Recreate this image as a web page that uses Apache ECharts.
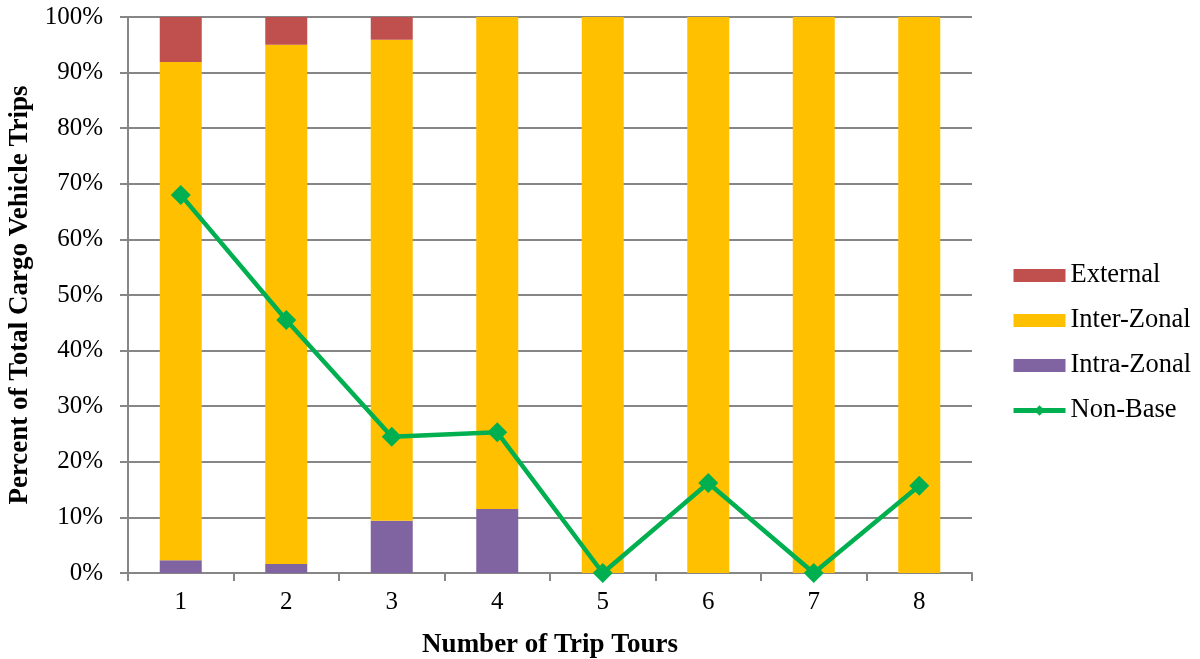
<!DOCTYPE html>
<html><head><meta charset="utf-8">
<script src="https://cdn.jsdelivr.net/npm/echarts@6/dist/echarts.min.js"></script>
<style>html,body{margin:0;padding:0;background:#fff}#c{width:1200px;height:659px}</style>
</head><body><div id="c"></div>
<script>
const categories = ['1','2','3','4','5','6','7','8'];
const intraZonal = [2.3, 1.6, 9.4, 11.5, 0, 0, 0, 0];
const interZonal = [89.6, 93.4, 86.5, 88.5, 100, 100, 100, 100];
const external = [8.1, 5.0, 4.1, 0, 0, 0, 0, 0];
const nonBase = [68.0, 45.5, 24.5, 25.3, 0, 16.2, 0, 15.7];
const yTicks = [0,10,20,30,40,50,60,70,80,90,100];

const font = '"Liberation Serif", "Times New Roman", serif';
const chart = echarts.init(document.getElementById('c'));
chart.setOption({
  animation: false,
  textStyle: {fontFamily: font},
  grid: {left: 128, right: 228, top: 17, bottom: 86, containLabel: false, outerBoundsMode: 'none'},
  legend: {
    orient: 'vertical', left: 1006, top: 257, itemGap: 18,
    itemWidth: 52, itemHeight: 13,
    textStyle: {fontFamily: font, fontSize: 26.5, color: '#000'},
    data: [
      {name: 'External', icon: 'rect'},
      {name: 'Inter-Zonal', icon: 'rect'},
      {name: 'Intra-Zonal', icon: 'rect'},
      {name: 'Non-Base', lineStyle: {width: 5}, itemStyle: {color: '#00B050'}}
    ]
  },
  xAxis: {
    type: 'category', data: categories,
    name: 'Number of Trip Tours', nameLocation: 'middle', nameGap: 59,
    nameTextStyle: {fontFamily: font, fontSize: 27, fontWeight: 'bold', color: '#000'},
    axisLine: {lineStyle: {color: '#868686', width: 2}},
    axisTick: {show: true, length: 8, lineStyle: {color: '#868686', width: 2}},
    axisLabel: {fontFamily: font, fontSize: 25, color: '#000', margin: 17},
  },
  yAxis: {
    type: 'value', min: 0, max: 100, interval: 10,
    name: 'Percent of Total Cargo Vehicle Trips', nameLocation: 'middle', nameGap: 92,
    nameTextStyle: {fontFamily: font, fontSize: 27, fontWeight: 'bold', color: '#000'},
    axisLine: {show: true, lineStyle: {color: '#868686', width: 2}},
    axisTick: {show: true, length: 8, lineStyle: {color: '#868686', width: 2}},
    axisLabel: {fontFamily: font, fontSize: 25, color: '#000', margin: 25,
      formatter: v => yTicks.includes(v) ? v + '%' : ''},
    splitLine: {lineStyle: {color: '#868686', width: 2}}
  },
  series: [
    {name: 'Intra-Zonal', type: 'bar', stack: 's', data: intraZonal, barWidth: 42,
     itemStyle: {color: '#8064A2'}},
    {name: 'Inter-Zonal', type: 'bar', stack: 's', data: interZonal, barWidth: 42,
     itemStyle: {color: '#FFC000'}},
    {name: 'External', type: 'bar', stack: 's', data: external, barWidth: 42,
     itemStyle: {color: '#C0504D'}},
    {name: 'Non-Base', type: 'line', data: nonBase, symbol: 'diamond', symbolSize: 20,
     lineStyle: {color: '#00B050', width: 4.5}, itemStyle: {color: '#00B050'}, z: 5}
  ]
});
</script></body></html>
